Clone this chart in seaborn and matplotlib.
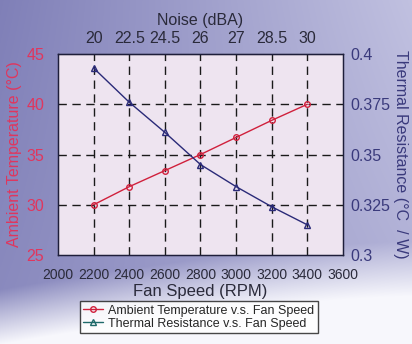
import numpy as np
import pandas as pd
import matplotlib
matplotlib.use("Agg")
import matplotlib.pyplot as plt
from matplotlib.lines import Line2D
import seaborn as sns

# data
fan_speed = [2200, 2400, 2600, 2800, 3000, 3200, 3400]
ambient_temp = [30.0, 31.8, 33.4, 35.0, 36.7, 38.4, 40.0]
thermal_res = [0.393, 0.376, 0.361, 0.345, 0.334, 0.324, 0.315]
noise_labels = ["20", "22.5", "24.5", "26", "27", "28.5", "30"]
x_ticks = [2000, 2200, 2400, 2600, 2800, 3000, 3200, 3400, 3600]
left_ticks = [25, 30, 35, 40, 45]
right_ticks = [0.3, 0.325, 0.35, 0.375, 0.4]
right_labels = ["0.3", "0.325", "0.35", "0.375", "0.4"]

df = pd.DataFrame({"rpm": fan_speed, "temp": ambient_temp, "res": thermal_res})

sns.set_style("white")
plt.rcParams["font.family"] = ["Liberation Sans", "DejaVu Sans"]

RED = "#d0203c"
NAVY = "#2a2a78"
RED_TXT = "#e0365e"
NAVY_TXT = "#3a3a7c"
DARK_TXT = "#2a2a3a"

fig = plt.figure(figsize=(4.12, 3.44), dpi=100)

# background gradient (decoration only)
bg = fig.add_axes([0, 0, 1, 1], zorder=-10)
h, w = 344, 412
yy, xx = np.mgrid[0:h, 0:w]
u = xx / w
v = yy / h
t = np.clip(0.55 * u + 0.25 * (1 - v) * u + 0.15 * v * (1 - u), 0, 1)
dark = np.array([0.50, 0.50, 0.72])
light = np.array([0.82, 0.82, 0.92])
img = dark[None, None, :] * (1 - t[..., None]) + light[None, None, :] * t[..., None]
# white swoosh towards the bottom
band = np.clip((v - 0.70 - 0.14 * (1 - u) ** 1.5) / 0.16, 0, 1)
img = img * (1 - band[..., None]) + np.array([0.97, 0.97, 0.99]) * band[..., None]
bg.imshow(img, aspect="auto", extent=[0, 1, 0, 1], origin="upper")
bg.set_axis_off()

ax = fig.add_axes([0.1408, 0.2587, 0.6917, 0.5843])
ax.set_facecolor("#eee4f0")
sns.lineplot(data=df, x="rpm", y="temp", ax=ax, color=RED, lw=1.0,
             marker="o", markersize=4, markerfacecolor="none",
             markeredgecolor=RED, markeredgewidth=1.0, zorder=5)
ax.set_xlim(2000, 3600)
ax.set_ylim(25, 45)
ax.set_xticks(x_ticks)
ax.set_yticks(left_ticks)
ax.tick_params(axis="x", length=0, pad=9, labelsize=10, labelcolor=DARK_TXT)
ax.tick_params(axis="y", length=0, pad=10, labelsize=11.5, labelcolor=RED_TXT)
ax.set_xlabel("Fan Speed (RPM)", fontsize=12, color=DARK_TXT, labelpad=2)
ax.set_ylabel("Ambient Temperature (\u00b0C)", fontsize=11.5, color=RED_TXT, labelpad=3)
for y in [30, 35, 40]:
    ax.axhline(y, color="#1a1a1a", lw=1.0, ls=(0, (6, 4)), zorder=1)
for x in fan_speed:
    ax.axvline(x, color="#1a1a1a", lw=1.0, ls=(0, (6, 4)), zorder=1)
for s in ax.spines.values():
    s.set_color("#1e1e3a")
    s.set_linewidth(1.0)

ax2 = ax.twinx()
sns.lineplot(data=df, x="rpm", y="res", ax=ax2, color=NAVY, lw=1.0,
             marker="^", markersize=5, markerfacecolor="none",
             markeredgecolor=NAVY, markeredgewidth=1.0, zorder=5)
ax2.set_ylim(0.3, 0.4)
ax2.set_yticks(right_ticks)
ax2.set_yticklabels(right_labels)
ax2.tick_params(axis="y", length=0, pad=5, labelsize=11.5, labelcolor=NAVY_TXT)
ax2.set_ylabel("Thermal Resistance (\u00b0C  / W)", fontsize=11.5, color=NAVY_TXT,
               rotation=270, labelpad=13)
for s in ax2.spines.values():
    s.set_color("#1e1e3a")

top = ax.secondary_xaxis("top")
top.set_xticks(fan_speed)
top.set_xticklabels(noise_labels)
top.tick_params(length=0, pad=6, labelsize=11.5, labelcolor=DARK_TXT)
top.set_xlabel("Noise (dBA)", fontsize=11.5, color=DARK_TXT, labelpad=4)

handles = [
    Line2D([], [], color=RED, lw=1.0, marker="o", markersize=4,
           markerfacecolor="none", markeredgecolor=RED),
    Line2D([], [], color="#1f6a6a", lw=1.0, marker="^", markersize=5,
           markerfacecolor="none", markeredgecolor="#1f6a6a"),
]
leg = fig.legend(handles, ["Ambient Temperature v.s. Fan Speed",
                           "Thermal Resistance v.s. Fan Speed"],
                 loc="center", bbox_to_anchor=(0.483, 0.078), fontsize=9,
                 frameon=True, fancybox=False, handlelength=1.6,
                 handletextpad=0.4, borderpad=0.25, labelspacing=0.1)
leg.get_frame().set_edgecolor("#1a1a1a")
leg.get_frame().set_facecolor("white")
leg.get_frame().set_linewidth(1.0)

fig.savefig("out.png", dpi=100)
